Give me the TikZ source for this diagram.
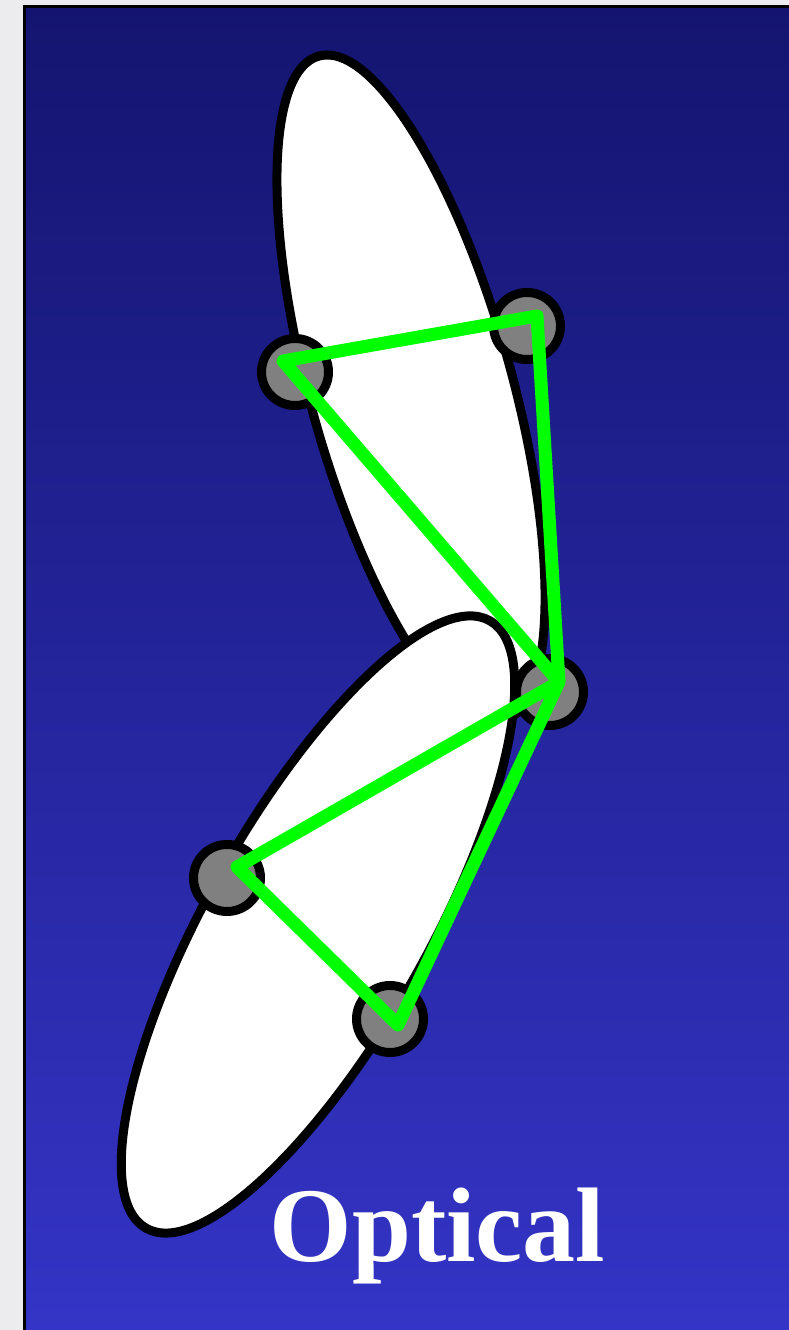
\documentclass[tikz,border=0pt]{standalone}
\usepackage{fontspec}
\setmainfont{Liberation Serif}
\definecolor{bgtop}{RGB}{20,20,112}
\definecolor{bgbot}{RGB}{52,52,198}
\definecolor{pagegray}{RGB}{236,236,239}
\definecolor{dotgray}{RGB}{128,128,128}
\definecolor{linegreen}{RGB}{0,255,0}
\begin{document}
\begin{tikzpicture}[x=1pt,y=1pt,
  blob/.style={draw=black,fill=white,line width=9pt},
  joint/.style={circle,draw=black,fill=dotgray,line width=9pt,inner sep=0pt,minimum size=67pt},
  link/.style={draw=linegreen,line width=13pt,line join=round,line cap=round}]
\useasboundingbox (0,0) rectangle (789,1330);
\fill[pagegray] (0,0) rectangle (789,1330);
\shade[top color=bgtop,bottom color=bgbot] (24.5,0) rectangle (800,1323.5);
\draw[line width=3pt] (24.5,-5) -- (24.5,1323.5) -- (800,1323.5);
% ellipses
\draw[blob,rotate around={15.5:(411,941.5)}] (411,941.5) ellipse [x radius=101pt,y radius=345pt];
\draw[blob,rotate around={-29.5:(318,405.5)}] (318,405.5) ellipse [x radius=110pt,y radius=349pt];
% joints
\node[joint] (p1) at (295,958) {};
\node[joint] (p2) at (527,1004) {};
\node[joint] (p3) at (550,638) {};
\node[joint] (p4) at (227,452) {};
\node[joint] (p5) at (390,311) {};
% green links
\coordinate (g1) at (283,969);
\coordinate (g2) at (537,1014);
\coordinate (g3) at (559,648);
\coordinate (g4) at (237,463);
\coordinate (g5) at (398,305);
\draw[link] (g1) -- (g2) -- (g3) -- cycle;
\draw[link] (g3) -- (g4) -- (g5) -- cycle;
% label
\node[anchor=base,text=white,inner sep=0pt,font=\bfseries\fontsize{106}{110}\selectfont] (lbl) at (437.5,68) {Optical};
\end{tikzpicture}
\end{document}
